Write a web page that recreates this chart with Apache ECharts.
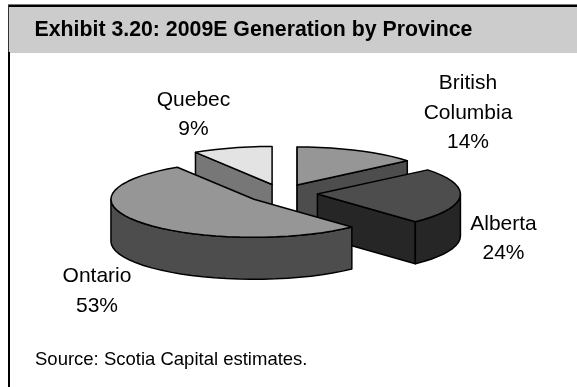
<!DOCTYPE html>
<html><head><meta charset="utf-8">
<style>html,body{margin:0;padding:0;background:#fff}#c{width:577px;height:387px}</style>
<script src="https://cdn.jsdelivr.net/npm/echarts@6/dist/echarts.min.js"></script>
</head><body><div id="c"></div>
<script>
var categories = ['British Columbia', 'Alberta', 'Ontario', 'Quebec'];
var values = [14, 24, 53, 9];
var labelLines = ['British\nColumbia\n14%', 'Alberta\n24%', 'Ontario\n53%', 'Quebec\n9%'];
var topColors = ['#969696', '#4d4d4d', '#969696', '#e3e3e3'];
var wallColors = ['#4d4d4d', '#262626', '#4d4d4d', '#777777'];
var drawOrder = [3, 0, 1, 2];
var labelAnchors = [[468, 113], [503.5, 238.5], [97, 291], [193.5, 114.5]];

var CX = 282, CY = 193.5, RX = 143, RY = 38, DEPTH = 42, EXPLODE = 35.5;
var total = values.reduce(function (a, b) { return a + b; }, 0);
var starts = [], acc = 0;
values.forEach(function (v) { starts.push(acc / total * 360); acc += v; });

function pt(c, deg, r) {
  var a = deg * Math.PI / 180;
  return [c[0] + (r === undefined ? 1 : r) * RX * Math.sin(a), c[1] - (r === undefined ? 1 : r) * RY * Math.cos(a)];
}
function arc(c, a0, a1) {
  var out = [], n = Math.max(2, Math.ceil(Math.abs(a1 - a0) / 5));
  for (var i = 0; i <= n; i++) out.push(pt(c, a0 + (a1 - a0) * i / n));
  return out;
}
function down(p) { return [p[0], p[1] + DEPTH]; }
var stroke = { stroke: '#000', lineWidth: 1.5, lineJoin: 'round' };
function poly(points, fill) {
  return { type: 'polygon', shape: { points: points }, style: Object.assign({ fill: fill }, stroke) };
}

function renderItem(params, api) {
  var i = api.value(0), a0 = starts[i], a1 = a0 + api.value(1) / total * 360, mid = (a0 + a1) / 2;
  var e = EXPLODE / RX, c = pt([CX, CY], mid, e);
  var kids = [], wall = wallColors[i];
  [a0, a1].forEach(function (a) {
    var facing = a > 0 && a < 180 ? a === a1 : a === a0;
    if (facing) { var p = pt(c, a); kids.push(poly([c, p, down(p), down(c)], wall)); }
  });
  var f0 = Math.max(a0, 90), f1 = Math.min(a1, 270);
  if (f1 > f0) {
    var top = arc(c, f0, f1);
    kids.push(poly(top.concat(top.slice().reverse().map(down)), wall));
  }
  kids.push(poly([c].concat(arc(c, a0, a1)), topColors[i]));
  return { type: 'group', children: kids };
}

var graphics = [
  { type: 'rect', shape: { x: 8, y: 6, width: 569, height: 47 }, style: { fill: '#cccccc' } },
  { type: 'rect', shape: { x: 8, y: 4, width: 569, height: 1 }, style: { fill: '#777' } },
  { type: 'rect', shape: { x: 8, y: 5, width: 569, height: 2 }, style: { fill: '#000' } },
  { type: 'rect', shape: { x: 8, y: 5, width: 1, height: 47 }, style: { fill: '#333' } },
  { type: 'rect', shape: { x: 8, y: 52, width: 2, height: 335 }, style: { fill: '#000' } }
];
labelLines.forEach(function (t, i) {
  graphics.push({ type: 'text', z: 20, x: labelAnchors[i][0], y: labelAnchors[i][1],
    style: { text: t, fill: '#000', font: '21px "Liberation Sans"', align: 'center', verticalAlign: 'middle', lineHeight: 29.5 } });
});
graphics.push({ type: 'text', z: 20, x: 34.5, y: 30.5, style: { text: 'Exhibit 3.20: 2009E Generation by Province', fill: '#000', font: 'bold 21.3px "Liberation Sans"', verticalAlign: 'middle' } });
graphics.push({ type: 'text', z: 20, x: 35, y: 360, style: { text: 'Source: Scotia Capital estimates.', fill: '#000', font: '18.5px "Liberation Sans"', verticalAlign: 'middle' } });

var chart = echarts.init(document.getElementById('c'), null, { renderer: 'canvas' });
chart.setOption({
  animation: false,
  backgroundColor: '#fff',
  graphic: graphics,
  series: [{
    type: 'custom', coordinateSystem: 'none', renderItem: renderItem, silent: true,
    data: drawOrder.map(function (i) { return { name: categories[i], value: [i, values[i]] }; })
  }]
});
</script></body></html>
